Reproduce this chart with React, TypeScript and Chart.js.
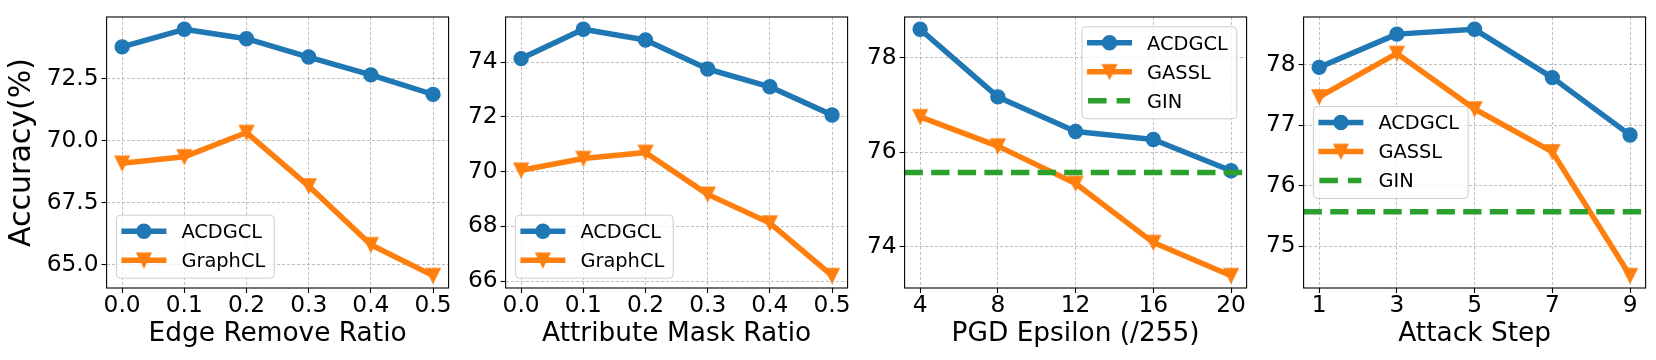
import React, { useEffect, useRef } from 'react';
import { Chart, registerables } from 'chart.js';

Chart.register(...registerables);

const FONT = '"DejaVu Sans", "Noto Sans", sans-serif';
const BLUE = '#1f77b4';
const ORANGE = '#ff7f0e';
const GREEN = '#2ca02c';

// ---------- data ----------
const edgeRatios = [0.0, 0.1, 0.2, 0.3, 0.4, 0.5];
const edgeACDGCL = [73.79, 74.5, 74.12, 73.38, 72.66, 71.87];
const edgeGraphCL = [69.09, 69.35, 70.33, 68.17, 65.8, 64.55];
const edgeYTicks = [65.0, 67.5, 70.0, 72.5];

const maskRatios = [0.0, 0.1, 0.2, 0.3, 0.4, 0.5];
const maskACDGCL = [74.13, 75.2, 74.81, 73.75, 73.1, 72.07];
const maskGraphCL = [70.05, 70.48, 70.7, 69.17, 68.12, 66.2];
const maskYTicks = [66, 68, 70, 72, 74];

const pgdEps = [4, 8, 12, 16, 20];
const pgdACDGCL = [78.6, 77.17, 76.44, 76.27, 75.61];
const pgdGASSL = [76.75, 76.13, 75.34, 74.09, 73.39];
const pgdYTicks = [74, 76, 78];

const attackSteps = [1, 3, 5, 7, 9];
const stepACDGCL = [77.96, 78.51, 78.59, 77.79, 76.84];
const stepGASSL = [77.47, 78.19, 77.27, 76.56, 74.51];
const stepYTicks = [75, 76, 77, 78];

const ginAccuracy = 75.57;

// ---------- layout ----------
const H = 360;
const PLOT_TOP = 11.5;
const PLOT_BOTTOM = 288;
const PLOT_W = 342;
const GRID = 'rgba(160,160,160,0.85)';

function triangleImage(color: string) {
  const s = 20;
  const c = document.createElement('canvas');
  c.width = s;
  c.height = s;
  const ctx = c.getContext('2d')!;
  const h = 7;
  const m = s / 2;
  ctx.beginPath();
  ctx.moveTo(m, m + h);
  ctx.lineTo(m - h, m - h);
  ctx.lineTo(m + h, m - h);
  ctx.closePath();
  ctx.fillStyle = color;
  ctx.fill();
  ctx.lineWidth = 1.4;
  ctx.strokeStyle = color;
  ctx.stroke();
  return c;
}

type Series = { label: string; color: string; marker: 'circle' | 'tri'; ys: number[] };
type PanelCfg = {
  cl: number;
  cw: number;
  plotLeft: number;
  xs: number[];
  xDec: number;
  yTicks: number[];
  yDec: number;
  series: Series[];
  gin: number | null;
  xTitle: string;
  yTitle: string | null;
  legendLoc: 'lower left' | 'upper right' | 'center left';
};

const panels: PanelCfg[] = [
  {
    cl: 0, cw: 460, plotLeft: 106.6, xs: edgeRatios, xDec: 1, yTicks: edgeYTicks, yDec: 1,
    series: [
      { label: 'ACDGCL', color: BLUE, marker: 'circle', ys: edgeACDGCL },
      { label: 'GraphCL', color: ORANGE, marker: 'tri', ys: edgeGraphCL },
    ],
    gin: null, xTitle: 'Edge Remove Ratio', yTitle: 'Accuracy(%)', legendLoc: 'lower left',
  },
  {
    cl: 460, cw: 400, plotLeft: 505.6, xs: maskRatios, xDec: 1, yTicks: maskYTicks, yDec: 0,
    series: [
      { label: 'ACDGCL', color: BLUE, marker: 'circle', ys: maskACDGCL },
      { label: 'GraphCL', color: ORANGE, marker: 'tri', ys: maskGraphCL },
    ],
    gin: null, xTitle: 'Attribute Mask Ratio', yTitle: null, legendLoc: 'lower left',
  },
  {
    cl: 860, cw: 398, plotLeft: 904.6, xs: pgdEps, xDec: 0, yTicks: pgdYTicks, yDec: 0,
    series: [
      { label: 'ACDGCL', color: BLUE, marker: 'circle', ys: pgdACDGCL },
      { label: 'GASSL', color: ORANGE, marker: 'tri', ys: pgdGASSL },
    ],
    gin: ginAccuracy, xTitle: 'PGD Epsilon (/255)', yTitle: null, legendLoc: 'upper right',
  },
  {
    cl: 1258, cw: 398, plotLeft: 1303.6, xs: attackSteps, xDec: 0, yTicks: stepYTicks, yDec: 0,
    series: [
      { label: 'ACDGCL', color: BLUE, marker: 'circle', ys: stepACDGCL },
      { label: 'GASSL', color: ORANGE, marker: 'tri', ys: stepGASSL },
    ],
    gin: ginAccuracy, xTitle: 'Attack Step', yTitle: null, legendLoc: 'center left',
  },
];

function overlayPlugin(cfg: PanelCfg, tri: HTMLCanvasElement) {
  return {
    id: 'overlay',
    afterDatasetsDraw(chart: any) {
      const { ctx, chartArea: a, scales } = chart;
      // horizontal GIN baseline
      if (cfg.gin != null) {
        const y = scales.y.getPixelForValue(cfg.gin);
        ctx.save();
        ctx.beginPath();
        ctx.rect(a.left, a.top, a.right - a.left, a.bottom - a.top);
        ctx.clip();
        ctx.strokeStyle = GREEN;
        ctx.lineWidth = 5.5;
        ctx.lineCap = 'butt';
        ctx.setLineDash([18.3, 8.3]);
        ctx.beginPath();
        ctx.moveTo(a.left, y);
        ctx.lineTo(a.right, y);
        ctx.stroke();
        ctx.restore();
      }
      // frame
      ctx.save();
      ctx.strokeStyle = '#000';
      ctx.lineWidth = 1.1;
      ctx.strokeRect(a.left, a.top, a.right - a.left, a.bottom - a.top);
      ctx.restore();

      // legend
      const entries: { label: string; color: string; kind: string }[] = cfg.series.map((s) => ({
        label: s.label, color: s.color, kind: s.marker,
      }));
      if (cfg.gin != null) entries.push({ label: 'GIN', color: GREEN, kind: 'dash' });
      const fs = 19.4;
      ctx.save();
      ctx.font = `${fs}px ${FONT}`;
      const tw = Math.max(...entries.map((e) => ctx.measureText(e.label).width));
      const n = entries.length;
      const w = 65 + tw + 9;
      const h = 34 + 29 * (n - 1);
      const pad = 9.8;
      let x0 = a.left + pad;
      let y0 = a.bottom - pad - h;
      if (cfg.legendLoc === 'upper right') {
        x0 = a.right - pad - w;
        y0 = a.top + pad;
      } else if (cfg.legendLoc === 'center left') {
        x0 = a.left + pad;
        y0 = (a.top + a.bottom) / 2 - h / 2;
      }
      ctx.beginPath();
      (ctx as any).roundRect(x0, y0, w, h, 4);
      ctx.fillStyle = 'rgba(255,255,255,0.8)';
      ctx.fill();
      ctx.strokeStyle = '#cccccc';
      ctx.lineWidth = 1;
      ctx.stroke();
      entries.forEach((e, i) => {
        const cy = y0 + 16 + 29 * i;
        ctx.strokeStyle = e.color;
        ctx.lineWidth = 5.5;
        ctx.beginPath();
        if (e.kind === 'dash') {
          ctx.setLineDash([18.5, 10]);
          ctx.lineCap = 'butt';
          ctx.moveTo(x0 + 6, cy);
          ctx.lineTo(x0 + 48, cy);
          ctx.stroke();
          ctx.setLineDash([]);
        } else {
          ctx.lineCap = 'square';
          ctx.moveTo(x0 + 7.75, cy);
          ctx.lineTo(x0 + 47.25, cy);
          ctx.stroke();
          const mx = x0 + 27.5;
          if (e.kind === 'circle') {
            ctx.beginPath();
            ctx.arc(mx, cy, 7, 0, Math.PI * 2);
            ctx.fillStyle = e.color;
            ctx.fill();
            ctx.lineWidth = 1.4;
            ctx.stroke();
          } else {
            ctx.drawImage(tri, mx - tri.width / 2, cy - tri.height / 2);
          }
        }
        ctx.fillStyle = '#000';
        ctx.textBaseline = 'alphabetic';
        ctx.textAlign = 'left';
        ctx.fillText(e.label, x0 + 65, cy + 7);
      });
      ctx.restore();
    },
  };
}

function buildConfig(cfg: PanelCfg, tri: HTMLCanvasElement): any {
  const allY: number[] = [];
  cfg.series.forEach((s) => allY.push(...s.ys));
  if (cfg.gin != null) allY.push(cfg.gin);
  const ymin = Math.min(...allY);
  const ymax = Math.max(...allY);
  const yr = ymax - ymin;
  const xmin = Math.min(...cfg.xs);
  const xmax = Math.max(...cfg.xs);
  const xr = xmax - xmin;
  const rightPad = cfg.cl + cfg.cw - (cfg.plotLeft + PLOT_W);

  const datasets = cfg.series.map((s) => ({
    label: s.label,
    data: cfg.xs.map((x, i) => ({ x, y: s.ys[i] })),
    borderColor: s.color,
    backgroundColor: s.color,
    borderWidth: 5.5,
    borderCapStyle: 'square',
    borderJoinStyle: 'round',
    tension: 0,
    pointStyle: s.marker === 'circle' ? 'circle' : tri,
    pointRadius: 7,
    pointBorderWidth: 1.4,
    pointBackgroundColor: s.color,
    pointBorderColor: s.color,
    clip: 0,
  }));

  return {
    type: 'line',
    data: { datasets },
    options: {
      animation: false,
      responsive: false,
      maintainAspectRatio: false,
      devicePixelRatio: 1,
      events: [],
      layout: { padding: { top: PLOT_TOP, right: rightPad, bottom: 0, left: 0 } },
      plugins: { legend: { display: false }, tooltip: { enabled: false } },
      scales: {
        x: {
          type: 'linear',
          position: 'bottom',
          min: xmin - 0.05 * xr,
          max: xmax + 0.05 * xr,
          afterBuildTicks: (s: any) => {
            s.ticks = cfg.xs.map((v) => ({ value: v }));
          },
          afterFit: (s: any) => {
            s.height = H - PLOT_BOTTOM;
          },
          ticks: {
            autoSkip: false,
            maxRotation: 0,
            minRotation: 0,
            padding: -1,
            color: '#000',
            font: { size: 23.3, family: FONT },
            callback: (v: any) => Number(v).toFixed(cfg.xDec),
          },
          grid: {
            color: GRID,
            lineWidth: 0.8,
            tickColor: '#000',
            tickWidth: 1.1,
            tickLength: 5,
            tickBorderDash: [],
          },
          border: { display: false, dash: [3, 2] },
          title: {
            display: true,
            text: cfg.xTitle,
            color: '#000',
            font: { size: 26.4, family: FONT },
            padding: { top: 0, bottom: 10 },
          },
        },
        y: {
          type: 'linear',
          position: 'left',
          min: ymin - 0.05 * yr,
          max: ymax + 0.05 * yr,
          afterBuildTicks: (s: any) => {
            s.ticks = cfg.yTicks.map((v) => ({ value: v }));
          },
          afterFit: (s: any) => {
            s.width = cfg.plotLeft - cfg.cl;
          },
          ticks: {
            autoSkip: false,
            padding: 3,
            color: '#000',
            font: { size: 23.3, family: FONT },
            callback: (v: any) => Number(v).toFixed(cfg.yDec),
          },
          grid: {
            color: GRID,
            lineWidth: 0.8,
            tickColor: '#000',
            tickWidth: 1.1,
            tickLength: 5,
            tickBorderDash: [],
          },
          border: { display: false, dash: [3, 2] },
          title: {
            display: cfg.yTitle != null,
            text: cfg.yTitle || '',
            color: '#000',
            font: { size: 30, family: FONT },
            padding: { top: 4.5, bottom: 0 },
          },
        },
      },
    },
    plugins: [overlayPlugin(cfg, tri)],
  };
}

function Panel({ cfg }: { cfg: PanelCfg }) {
  const ref = useRef<HTMLCanvasElement | null>(null);
  useEffect(() => {
    if (!ref.current) return;
    const tri = triangleImage(ORANGE);
    const chart = new Chart(ref.current, buildConfig(cfg, tri));
    return () => chart.destroy();
  }, [cfg]);
  return (
    <canvas
      ref={ref}
      width={cfg.cw}
      height={H}
      style={{ position: 'absolute', left: cfg.cl, top: 0, width: cfg.cw, height: H }}
    />
  );
}

export default function App() {
  useEffect(() => {
    document.body.style.margin = '0';
  }, []);
  return (
    <div
      style={{
        position: 'absolute',
        left: 0,
        top: 0,
        width: 1656,
        height: H,
        background: '#fff',
        overflow: 'hidden',
      }}
    >
      {panels.map((p, i) => (
        <Panel key={i} cfg={p} />
      ))}
    </div>
  );
}
